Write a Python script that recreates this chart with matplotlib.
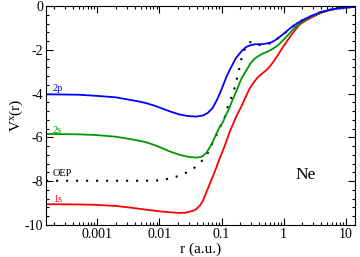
import matplotlib
matplotlib.use("Agg")
import matplotlib.pyplot as plt
from matplotlib.ticker import LogLocator, FixedLocator, MultipleLocator, NullFormatter

plt.rcParams['font.family'] = ['Liberation Serif', 'DejaVu Serif']
plt.rcParams['mathtext.fontset'] = 'custom'
plt.rcParams['mathtext.rm'] = 'Liberation Serif'
plt.rcParams['mathtext.it'] = 'Liberation Serif:italic'

# 2p (blue)
r_2p = [1.5e-4, 5e-4, 9.5e-4, 2e-3, 3.27e-3, 4.5e-3, 6.08e-3, 8.5e-3, 0.0113, 0.015,
        0.0209, 0.028, 0.0389, 0.05, 0.06, 0.072, 0.082, 0.093, 0.105, 0.119, 0.135,
        0.152, 0.17, 0.195, 0.22, 0.249, 0.29, 0.34, 0.4, 0.46, 0.55, 0.63, 0.74, 0.86,
        1.0, 1.17, 1.4, 1.8, 2.3, 2.9, 4.0, 5.5, 7.5, 10, 14]
v_2p = [-4.03, -4.05, -4.1, -4.17, -4.28, -4.35, -4.43, -4.56, -4.69, -4.82,
        -4.95, -5.02, -5.05, -5.0, -4.88, -4.65, -4.35, -4.02, -3.65, -3.25, -2.92,
        -2.64, -2.38, -2.17, -2.0, -1.87, -1.79, -1.75, -1.74, -1.74, -1.7, -1.66, -1.55, -1.41,
        -1.26, -1.1, -0.92, -0.72, -0.56, -0.43, -0.27, -0.17, -0.1, -0.06, -0.04]

# 2s (green)
r_2s = [1.5e-4, 5e-4, 9.5e-4, 2e-3, 3.27e-3, 4.5e-3, 6.08e-3, 8.5e-3, 0.0113, 0.015,
        0.0209, 0.028, 0.0389, 0.045, 0.05, 0.057, 0.064, 0.072, 0.082, 0.092, 0.105,
        0.119, 0.134, 0.155, 0.183, 0.21, 0.25, 0.29, 0.34, 0.4, 0.46, 0.55, 0.63, 0.74,
        0.86, 1.0, 1.17, 1.4, 1.8, 2.3, 2.9, 4.0, 5.5, 7.5, 10, 14]
v_2s = [-5.84, -5.86, -5.89, -5.97, -6.07, -6.14, -6.22, -6.36, -6.5, -6.65,
        -6.79, -6.88, -6.92, -6.9, -6.85, -6.7, -6.47, -6.2, -5.85, -5.55, -5.3,
        -4.95, -4.63, -4.2, -3.71, -3.3, -2.94, -2.63, -2.4, -2.27, -2.17, -2.08, -1.99, -1.87,
        -1.72, -1.53, -1.33, -1.08, -0.8, -0.6, -0.46, -0.29, -0.18, -0.11, -0.07, -0.04]

# 1s (red)
r_1s = [1.5e-4, 5e-4, 9.5e-4, 2e-3, 3.27e-3, 4.5e-3, 6.08e-3, 8.5e-3, 0.0113, 0.015,
        0.0209, 0.026, 0.03, 0.0345, 0.0389, 0.045, 0.05, 0.057, 0.065, 0.073, 0.082,
        0.092, 0.105, 0.12, 0.135, 0.152, 0.175, 0.207, 0.24, 0.281, 0.33, 0.383, 0.45,
        0.52, 0.6, 0.71, 0.83, 0.97, 1.13, 1.32, 1.55, 1.8, 2.3, 2.9, 4.0, 5.5, 7.5, 10, 14]
v_1s = [-9.05, -9.06, -9.08, -9.13, -9.2, -9.25, -9.3, -9.35, -9.39, -9.42,
        -9.45, -9.44, -9.4, -9.35, -9.28, -9.1, -8.9, -8.5, -8.1, -7.75, -7.39,
        -7.0, -6.6, -6.16, -5.75, -5.4, -5.0, -4.6, -4.2, -3.78, -3.48, -3.25, -3.08,
        -2.94, -2.75, -2.48, -2.18, -1.87, -1.6, -1.33, -1.07, -0.85, -0.65, -0.5, -0.31, -0.19, -0.11, -0.07, -0.04]

# OEP (black dotted)
r_oep = [1.5e-4, 1e-3, 5e-3, 0.0089, 0.0126, 0.0171, 0.022, 0.029, 0.036, 0.0443, 0.0534,
         0.06, 0.068, 0.079, 0.0895, 0.1, 0.112, 0.122, 0.134, 0.148, 0.16, 0.172, 0.183,
         0.195, 0.207, 0.225, 0.249, 0.28, 0.311, 0.35, 0.397, 0.46, 0.52, 0.6, 0.7, 0.84,
         1.0, 1.2, 1.5, 1.8, 2.3, 3.0, 4.0, 5.5, 7.5, 10, 14]
v_oep = [-7.98, -7.98, -7.98, -7.97, -7.91, -7.83, -7.72, -7.57, -7.4, -7.19, -6.93,
         -6.7, -6.38, -6.04, -5.65, -5.4, -5.09, -4.7, -4.4, -4.09, -3.78, -3.45, -3.1,
         -2.79, -2.45, -2.13, -1.79, -1.66, -1.64, -1.7, -1.77, -1.8, -1.79, -1.7, -1.58, -1.44,
         -1.28, -1.1, -0.88, -0.72, -0.55, -0.42, -0.27, -0.17, -0.1, -0.06, -0.04]

xticks = [0.001, 0.01, 0.1, 1, 10]
xticklabels = ['0.001', '0.01', '0.1', '1', '10']
yticks = [0, -2, -4, -6, -8, -10]
yticklabels = ['0', '-2', '-4', '-6', '-8', '-10']

fig = plt.figure(figsize=(3.6, 2.57), dpi=100)
ax = fig.add_axes([0.128, 0.1245, 0.858, 0.852])

ax.plot(r_oep, v_oep, color='black', lw=1.5, linestyle=(0, (1, 3.8)))
ax.plot(r_1s, v_1s, color='#ff0000', lw=1.3)
ax.plot(r_2s, v_2s, color='#009900', lw=1.3)
ax.plot(r_2p, v_2p, color='#0000ff', lw=1.3)

ax.set_xscale('log')
ax.set_xlim(1.5e-4, 14)
ax.set_ylim(-10, 0)

ax.xaxis.set_major_locator(FixedLocator(xticks))
ax.set_xticklabels(xticklabels)
ax.xaxis.set_minor_locator(LogLocator(base=10, subs=range(2, 10), numticks=20))
ax.xaxis.set_minor_formatter(NullFormatter())
ax.set_yticks(yticks)
ax.set_yticklabels(yticklabels)
ax.yaxis.set_minor_locator(MultipleLocator(0.4))

ax.tick_params(which='both', direction='in', top=True, right=True, labelsize=10, pad=2)
ax.tick_params(which='major', length=5, width=0.8)
ax.tick_params(which='minor', length=2.5, width=0.8)

ax.set_xlabel('r (a.u.)', fontsize=11, labelpad=1)
ax.set_ylabel(r'V$^{\mathrm{x}}$(r)', fontsize=11, labelpad=0)

tx = 1.94e-4
ax.text(tx, -3.86, '2p', color='#0000ff', fontsize=7.5, va='baseline', ha='left')
ax.text(tx, -5.79, '2s', color='#009900', fontsize=7.5, va='baseline', ha='left')
ax.text(tx, -7.77, 'OEP', color='black', fontsize=7.5, va='baseline', ha='left')
ax.text(tx, -8.97, '1s', color='#ff0000', fontsize=7.5, va='baseline', ha='left')
ax.text(1.54, -7.9, 'Ne', color='black', fontsize=12.5, va='baseline', ha='left')

fig.savefig('out.png', dpi=100)
